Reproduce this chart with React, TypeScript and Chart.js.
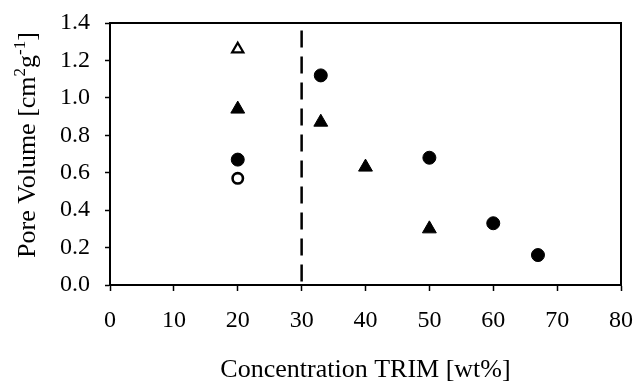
import React, { useEffect, useRef } from "react";
import { Chart, registerables } from "chart.js";

Chart.register(...registerables);

// Data
const filledCircles = [
  { x: 20, y: 0.67 },
  { x: 33, y: 1.12 },
  { x: 50, y: 0.68 },
  { x: 60, y: 0.33 },
  { x: 67, y: 0.16 },
];
const filledTriangles = [
  { x: 20, y: 0.94 },
  { x: 33, y: 0.87 },
  { x: 40, y: 0.63 },
  { x: 50, y: 0.3 },
];
const openCircles = [{ x: 20, y: 0.57 }];
const openTriangles = [{ x: 20, y: 1.26 }];
const dividerLine = [
  { x: 30, y: 1.36 },
  { x: 30, y: 0 },
];
const xTicks = [0, 10, 20, 30, 40, 50, 60, 70, 80];
const yTicks = [0, 0.2, 0.4, 0.6, 0.8, 1.0, 1.2, 1.4];
const xTitle = "Concentration TRIM [wt%]";
const yTitleParts = [
  { t: "Pore Volume [cm", sup: false },
  { t: "2", sup: true },
  { t: "g", sup: false },
  { t: "-1", sup: true },
  { t: "]", sup: false },
];

const FONT = '"Liberation Serif", "Times New Roman", serif';

const framePlugin = {
  id: "frameAndTitles",
  afterDraw(chart: any) {
    const { ctx, chartArea } = chart;
    ctx.save();
    ctx.strokeStyle = "#000";
    ctx.lineWidth = 2;
    ctx.strokeRect(
      chartArea.left,
      chartArea.top,
      chartArea.right - chartArea.left,
      chartArea.bottom - chartArea.top
    );
    // x title
    ctx.fillStyle = "#000";
    ctx.font = `26px ${FONT}`;
    ctx.textAlign = "center";
    ctx.textBaseline = "alphabetic";
    ctx.fillText(xTitle, (chartArea.left + chartArea.right) / 2, 377);

    // y title with superscripts
    const big = `26px ${FONT}`;
    const small = `17px ${FONT}`;
    let total = 0;
    for (const p of yTitleParts) {
      ctx.font = p.sup ? small : big;
      total += ctx.measureText(p.t).width;
    }
    ctx.translate(35, 145);
    ctx.rotate(-Math.PI / 2);
    ctx.textAlign = "left";
    let x = -total / 2;
    for (const p of yTitleParts) {
      ctx.font = p.sup ? small : big;
      ctx.fillText(p.t, x, p.sup ? -10 : 0);
      x += ctx.measureText(p.t).width;
    }
    ctx.restore();
  },
};

export default function App() {
  const ref = useRef<HTMLCanvasElement | null>(null);
  useEffect(() => {
    document.body.style.margin = "0";
    const canvas = ref.current!;
    const chart = new Chart(canvas, {
      type: "scatter",
      data: {
        datasets: [
          {
            type: "line",
            data: dividerLine,
            borderColor: "#000",
            borderWidth: 2.5,
            borderDash: [17, 9],
            pointRadius: 0,
            fill: false,
          } as any,
          {
            data: openTriangles,
            pointStyle: "triangle",
            pointRadius: 6.5,
            borderWidth: 2.2,
            borderColor: "#000",
            backgroundColor: "#fff",
          },
          {
            data: filledTriangles,
            pointStyle: "triangle",
            pointRadius: 8,
            borderWidth: 1,
            borderColor: "#000",
            backgroundColor: "#000",
          },
          {
            data: filledCircles,
            pointStyle: "circle",
            pointRadius: 6.5,
            borderWidth: 1,
            borderColor: "#000",
            backgroundColor: "#000",
          },
          {
            data: openCircles,
            pointStyle: "circle",
            pointRadius: 5.2,
            borderWidth: 2.6,
            borderColor: "#000",
            backgroundColor: "#fff",
          },
        ],
      },
      options: {
        responsive: false,
        animation: false,
        devicePixelRatio: 1,
        layout: { padding: { left: 0, right: 15, top: 23, bottom: 0 } },
        plugins: {
          legend: { display: false },
          tooltip: { enabled: false },
        },
        scales: {
          x: {
            type: "linear",
            min: 0,
            max: 80,
            afterFit: (s: any) => {
              s.height = 98;
              s.paddingLeft = 0;
              s.paddingRight = 0;
            },
            afterBuildTicks: (s: any) => {
              s.ticks = xTicks.map((v) => ({ value: v }));
            },
            ticks: {
              color: "#000",
              font: { family: FONT, size: 24 },
              padding: 15,
              maxRotation: 0,
              callback: (v: any) => String(v),
            },
            grid: {
              drawOnChartArea: false,
              drawTicks: true,
              tickLength: 6,
              tickWidth: 1.5,
              tickColor: "#000",
            },
            border: { display: true, color: "#000", width: 2 },
          },
          y: {
            type: "linear",
            min: 0,
            max: 1.4,
            afterFit: (s: any) => {
              s.width = 110;
              s.paddingTop = 0;
              s.paddingBottom = 0;
            },
            afterBuildTicks: (s: any) => {
              s.ticks = yTicks.map((v) => ({ value: v }));
            },
            ticks: {
              color: "#000",
              font: { family: FONT, size: 24 },
              padding: 15,
              callback: (v: any) => Number(v).toFixed(1),
            },
            grid: {
              drawOnChartArea: false,
              drawTicks: true,
              tickLength: 5,
              tickWidth: 1.5,
              tickColor: "#000",
            },
            border: { display: true, color: "#000", width: 2 },
          },
        },
      },
      plugins: [framePlugin],
    });
    return () => chart.destroy();
  }, []);
  return (
    <div style={{ width: 636, height: 383, background: "#fff" }}>
      <canvas ref={ref} width={636} height={383} style={{ display: "block" }} />
    </div>
  );
}
